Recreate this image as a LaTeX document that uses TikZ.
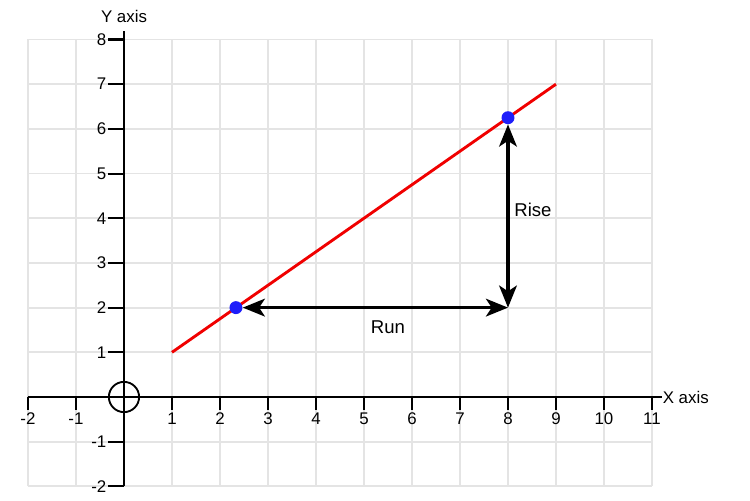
\documentclass[tikz,border=0pt]{standalone}
\usepackage{fontspec}
\setmainfont{Liberation Sans}
\usepackage{xcolor}
\usetikzlibrary{arrows.meta,positioning}
\definecolor{gridgray}{RGB}{228,228,228}
\definecolor{lnred}{RGB}{240,0,0}
\definecolor{ptblue}{RGB}{30,30,250}

\begin{document}
\begin{tikzpicture}[
  x=1cm, y=0.931cm,
  grid line/.style={draw=gridgray, line width=1.1pt},
  axis/.style={draw=black, line width=1.2pt},
  tick/.style={draw=black, line width=1.2pt},
  ticklabel/.style={font=\fontsize{10}{12}\selectfont, inner sep=1pt},
  axlabel/.style={font=\fontsize{10}{12}\selectfont, inner sep=1pt},
  dot/.style={circle, fill=ptblue, inner sep=0pt, minimum size=0.27cm},
  redline/.style={draw=lnred, line width=1.7pt},
  arr/.style={>={Stealth[length=0.46cm, width=0.37cm, inset=0.12cm]}, <->, line width=1.8pt, draw=black},
  txt/.style={font=\fontsize{11}{13}\selectfont}
]
\useasboundingbox (-2.583cm,-2.146cm) rectangle (13.042cm,8.271cm);

% grid
\foreach \x in {-2,...,11} \draw[grid line] (\x,-2) -- (\x,8);
\foreach \y in {-2,...,8} \draw[grid line] (-2,\y) -- (11,\y);

% axes
\coordinate (xmin) at (-2,0);
\coordinate (xmax) at (11.2,0);
\coordinate (ymin) at (0,-2);
\coordinate (ymax) at (0,8.2);
\draw[axis] (xmin) -- (xmax);
\draw[axis] (ymin) -- (ymax);
\node[axlabel, anchor=west, inner sep=0.5pt] (xlab) at (xmax) {X axis};
\node[axlabel, above=0.12cm of ymax] (ylab) {Y axis};
\node[draw, circle, line width=1.1pt, minimum size=0.63cm] (origin) at (0,0) {};

% ticks
\foreach \x in {-2,-1,1,2,3,4,5,6,7,8,9,10,11}
  \draw[tick] (\x,0) -- ++(0,-0.27cm) node[ticklabel, below] {\x};
\foreach \y in {-2,-1,1,2,3,4,5,6,7,8}
  \draw[tick] (0,\y) -- ++(-0.33cm,0) node[ticklabel, left, inner sep=0.5pt] {\y};

% line and points
\coordinate (start) at (1,1);
\coordinate (end) at (9,7);
\draw[redline] (start) -- (end);
\node[dot] (p1) at (2.333,2) {};
\node[dot] (p2) at (8,6.25) {};
\coordinate (corner) at (8,2);

\draw[arr] (p1) -- (corner);
\draw[arr] (corner) -- (p2);
\node[txt] (run) at (5.5,1.57) {Run};
\node[txt] (rise) at (8.52,4.18) {Rise};
\end{tikzpicture}
\end{document}
